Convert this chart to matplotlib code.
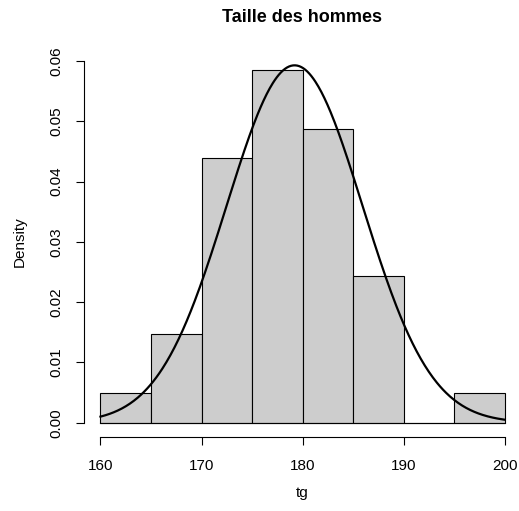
import numpy as np
import matplotlib
matplotlib.use("Agg")
import matplotlib.pyplot as plt

# Data
bin_edges = [160, 165, 170, 175, 180, 185, 190, 195, 200]
counts = [1, 3, 9, 12, 10, 5, 0, 1]
n_total = 41
mean_tg = 179.2
sd_tg = 6.73
title = "Taille des hommes"
xlabel = "tg"
ylabel = "Density"
xticks = [160, 170, 180, 190, 200]
yticks = [0.00, 0.01, 0.02, 0.03, 0.04, 0.05, 0.06]

plt.rcParams['font.family'] = ['Liberation Sans', 'DejaVu Sans']

fig = plt.figure(figsize=(5.19, 5.11), dpi=100)
W, H = 519, 511
x0, x1 = 84.3, 521.0
ytop, ybot = 46.5, 437.2
ax = fig.add_axes([x0 / W, (H - ybot) / H, (x1 - x0) / W, (ybot - ytop) / H])

edges = np.array(bin_edges, dtype=float)
widths = np.diff(edges)
dens = np.array(counts) / (n_total * widths)

ax.bar(edges[:-1], dens, width=widths, align='edge', color='#cdcdcd',
       edgecolor='black', linewidth=0.8, zorder=2)
ax.plot([edges[0], edges[-1]], [0, 0], color='black', linewidth=0.8, zorder=3)

xs = np.linspace(edges[0], edges[-1], 400)
ys = np.exp(-0.5 * ((xs - mean_tg) / sd_tg) ** 2) / (sd_tg * np.sqrt(2 * np.pi))
ax.plot(xs, ys, color='black', linewidth=1.6, zorder=4)

ax.set_xlim(158.4, 201.6)
ax.set_ylim(-0.0024, 0.0624)

for s in ['top', 'right']:
    ax.spines[s].set_visible(False)
ax.spines['bottom'].set_bounds(160, 200)
ax.spines['left'].set_bounds(0, 0.06)
ax.spines['bottom'].set_linewidth(0.8)
ax.spines['left'].set_linewidth(0.8)

ax.set_xticks(xticks)
ax.set_xticklabels([str(v) for v in xticks])
ax.set_yticks(yticks)
ax.set_yticklabels([f"{v:.2f}" for v in yticks])
ax.tick_params(axis='both', direction='out', length=6, width=0.8, labelsize=11,
               colors='black')
ax.tick_params(axis='x', pad=10)
ax.tick_params(axis='y', pad=9)
for lab in ax.get_yticklabels():
    lab.set_rotation(90)
    lab.set_va('center')

fig.text(302 / W, 1 - 18 / H, title, ha='center', va='center',
         fontsize=13, fontweight='bold')
fig.text(302 / W, 1 - 493 / H, xlabel, ha='center', va='center', fontsize=11)
fig.text(20 / W, 1 - 242 / H, ylabel, ha='center', va='center', fontsize=11,
         rotation=90)

fig.savefig("out.png", dpi=100)
